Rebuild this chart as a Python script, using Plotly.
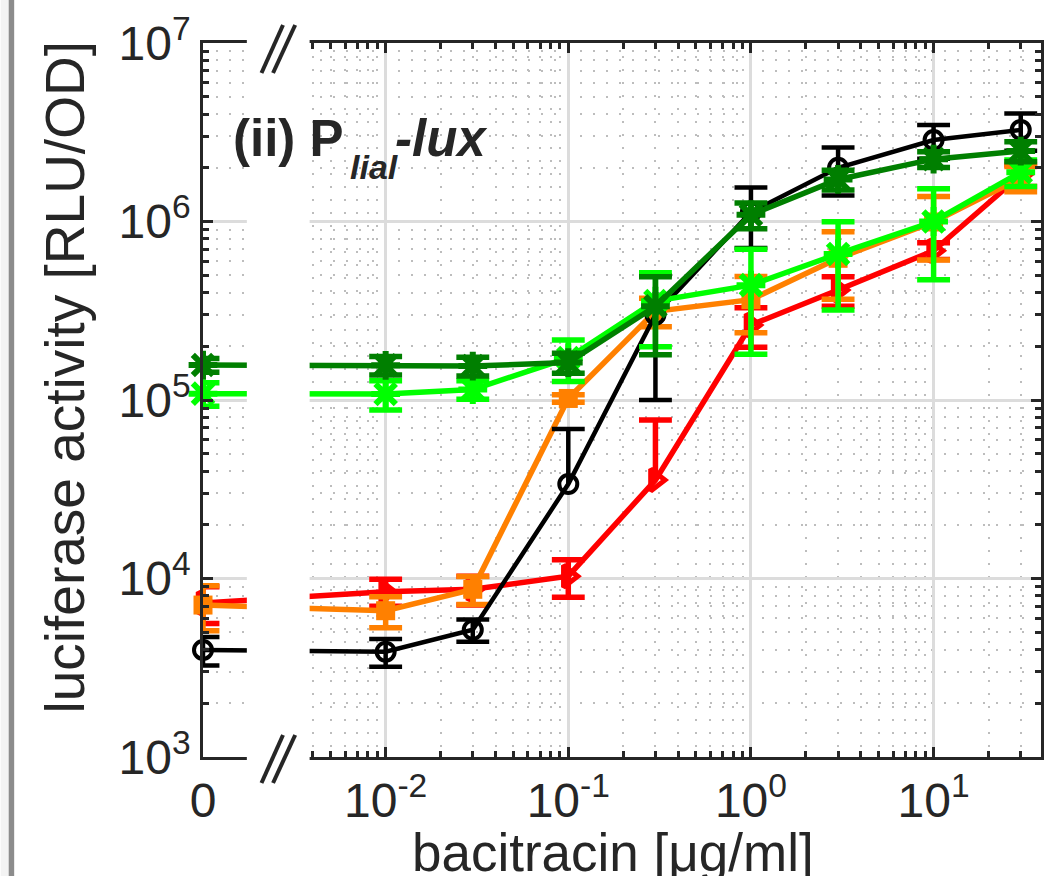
import plotly.graph_objects as go

# ---------------- data ----------------
conc = [0, 0.01, 0.03, 0.1, 0.3, 1, 3, 10, 30]          # bacitracin [ug/ml]
ZERO_POS = 1e-3                                          # where "0" is drawn on the log axis

black_mean = [3980, 3890, 5160, 33800, 300000, 1130000, 2000000, 2860000, 3260000]
black_sd   = [720, 690, 740, 35100, 200000, 420000, 600000, 610000, 770000]

red_mean = [7300, 8440, 8700, 10300, 35600, 263000, 413000, 686000, 1820000]
red_sd   = [1700, 1460, 1600, 2450, 41700, 65500, 78000, 74000, 250000]

orange_mean = [7100, 6600, 8700, 102000, 314000, 365000, 622000, 994000, 1750000]
orange_sd   = [2000, 1300, 1550, 5000, 57000, 127000, 255000, 386000, 280000]

lgreen_mean = [108500, 108000, 114500, 172000, 358000, 440000, 658000, 1000000, 1890000]
lgreen_sd   = [16250, 20000, 13500, 45000, 159000, 259500, 339000, 528000, 320000]

dgreen_mean = [157000, 156500, 155000, 162000, 335000, 1090000, 1720000, 2235000, 2480000]
dgreen_sd   = [14000, 18500, 18500, 21000, 156000, 178000, 220000, 225000, 320000]

x_ticks = [0, 0.01, 0.1, 1, 10]
x_ticktext = ["0", "10<sup>-2</sup>", "10<sup>-1</sup>", "10<sup>0</sup>", "10<sup>1</sup>"]
y_ticks = [1e3, 1e4, 1e5, 1e6, 1e7]
y_ticktext = ["10<sup>3</sup>", "10<sup>4</sup>", "10<sup>5</sup>", "10<sup>6</sup>", "10<sup>7</sup>"]

# ---------------- layout geometry ----------------
W, H = 1044, 876
L, R, T, B = 203, 1044, 43, 757
PW, PH = R - L, B - T
DEC_PX = 183.3  # pixels per decade on x


def px(x):
    return (x - L) / PW


def py(y):
    return (B - y) / PH


FONT = "Liberation Sans, Arial, Helvetica, sans-serif"
AX = "#262626"

xpos = [ZERO_POS if c == 0 else c for c in conc]
cap_f = 10 ** (16.5 / DEC_PX)

# name, mean, sd, colour, symbol, marker size, marker line width, line width
series = [
    ("red", red_mean, red_sd, "#ff0000", "triangle-right-open", 19, 5, 5.5),
    ("orange", orange_mean, orange_sd, "#ff8000", "square", 19, 0, 5.5),
    ("black", black_mean, black_sd, "#000000", "circle-open", 18, 4, 4.5),
    ("lgreen", lgreen_mean, lgreen_sd, "#00ff00", "asterisk-open", 24, 6, 5.5),
    ("dgreen", dgreen_mean, dgreen_sd, "#007f00", "asterisk-open", 24, 6, 5.5),
]

fig = go.Figure()
for name, mean, sd, col, sym, size, mlw, lw in series:
    ex, ey = [], []
    for x, m, s in zip(xpos, mean, sd):
        lo, hi = m - s, m + s
        ex += [x, x, None, x / cap_f, x * cap_f, None]
        ey += [lo if lo > 0 else m, hi, None, hi, hi, None]
        if lo > 0:
            ex += [x / cap_f, x * cap_f, None]
            ey += [lo, lo, None]
    fig.add_trace(go.Scatter(x=ex, y=ey, mode="lines", line=dict(color=col, width=lw),
                             cliponaxis=True, showlegend=False, hoverinfo="skip"))
    mk = dict(symbol=sym, size=size, color=col)
    if mlw:
        mk["line"] = dict(color=col, width=mlw)
    fig.add_trace(go.Scatter(x=xpos, y=mean, mode="lines+markers", name=name,
                             line=dict(color=col, width=lw), marker=mk,
                             cliponaxis=False, showlegend=False))

minor_x = [k * 10 ** e for e in range(-3, 2) for k in range(2, 10)]
minor_y = [k * 10 ** e for e in range(3, 7) for k in range(2, 10)]
x_tickpos = [ZERO_POS if v == 0 else v for v in x_ticks]

common = dict(type="log", showline=True, linecolor=AX, linewidth=2.5, mirror="ticks",
              ticks="inside", ticklen=10, tickwidth=2.5, tickcolor=AX,
              showgrid=True, gridcolor="#dcdcdc", gridwidth=2.5, zeroline=False,
              tickfont=dict(family=FONT, size=48, color=AX))

fig.update_xaxes(range=[-3, -3 + PW / DEC_PX], tickmode="array", tickvals=x_tickpos,
                 ticktext=x_ticktext,
                 minor=dict(tickmode="array", tickvals=minor_x, ticks="inside", ticklen=6,
                            tickwidth=2.5, tickcolor=AX, showgrid=True, gridcolor="#bdbdbd",
                            gridwidth=2, griddash="2px,11px"),
                 **common)
fig.update_yaxes(range=[3, 7], tickmode="array", tickvals=y_ticks, ticktext=y_ticktext,
                 minor=dict(tickmode="array", tickvals=minor_y, ticks="inside", ticklen=6,
                            tickwidth=2.5, tickcolor=AX, showgrid=True, gridcolor="#bdbdbd",
                            gridwidth=2, griddash="2px,11px"),
                 **common)

shapes = [
    # axis break gap
    dict(type="rect", xref="paper", yref="paper", x0=px(247), x1=px(310), y0=py(768), y1=py(32),
         fillcolor="white", line=dict(width=0), layer="above"),
    # break marks
    dict(type="line", xref="paper", yref="paper", x0=px(261.7), y0=py(73), x1=px(283.3), y1=py(25),
         line=dict(color=AX, width=4), layer="above"),
    dict(type="line", xref="paper", yref="paper", x0=px(273.3), y0=py(73), x1=px(295.5), y1=py(25),
         line=dict(color=AX, width=4), layer="above"),
    dict(type="line", xref="paper", yref="paper", x0=px(261.7), y0=py(783), x1=px(283.3), y1=py(735),
         line=dict(color=AX, width=4), layer="above"),
    dict(type="line", xref="paper", yref="paper", x0=px(273.3), y0=py(783), x1=px(295.5), y1=py(735),
         line=dict(color=AX, width=4), layer="above"),
    # gray frame strip at the left edge
    dict(type="rect", xref="paper", yref="paper", x0=px(0), x1=px(8), y0=py(H + 5), y1=py(-5),
         fillcolor="#f3f3f3", line=dict(width=0), layer="above"),
    dict(type="rect", xref="paper", yref="paper", x0=px(8), x1=px(13.5), y0=py(H + 5), y1=py(-5),
         fillcolor="#8c8c8c", line=dict(width=0), layer="above"),
]

annotations = [
    dict(text="luciferase activity [RLU/OD]", xref="paper", yref="paper", x=px(65), y=py(377),
         textangle=-90, showarrow=False, xanchor="center", yanchor="middle",
         font=dict(family=FONT, size=55, color=AX)),
    dict(text="bacitracin [\u03bcg/ml]", xref="paper", yref="paper", x=px(614), y=py(852),
         showarrow=False, xanchor="center", yanchor="middle",
         font=dict(family=FONT, size=53, color=AX)),
    dict(text="<b>(ii) P</b>", xref="paper", yref="paper", x=px(231), y=py(139),
         showarrow=False, xanchor="left", yanchor="middle",
         font=dict(family=FONT, size=51, color=AX)),
    dict(text="<b><i>lial</i></b>", xref="paper", yref="paper", x=px(349), y=py(167),
         showarrow=False, xanchor="left", yanchor="middle",
         font=dict(family=FONT, size=34, color=AX)),
    dict(text="<b><i>-lux</i></b>", xref="paper", yref="paper", x=px(394), y=py(139),
         showarrow=False, xanchor="left", yanchor="middle",
         font=dict(family=FONT, size=51, color=AX)),
]

fig.update_layout(width=W, height=H, autosize=False,
                  margin=dict(l=L, r=W - R, t=T, b=H - B, pad=0),
                  paper_bgcolor="white", plot_bgcolor="white",
                  shapes=shapes, annotations=annotations, showlegend=False,
                  font=dict(family=FONT, color=AX))

fig.write_html("out.html")
